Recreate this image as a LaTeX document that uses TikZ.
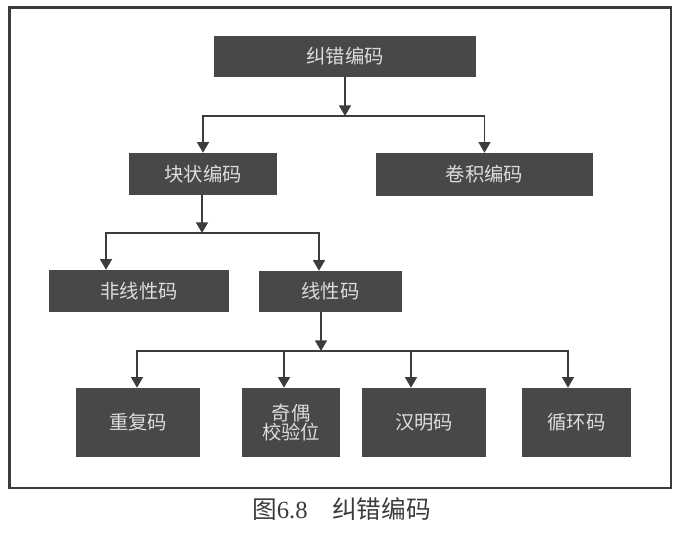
\documentclass[tikz,border=0pt]{standalone}
\usepackage{fontspec}
\setmainfont{Liberation Serif}
\newfontfamily\cjk{Noto Sans CJK SC}
\usetikzlibrary{arrows.meta}

\definecolor{boxgray}{HTML}{484848}
\definecolor{linegray}{HTML}{3C3C3C}
\definecolor{textgray}{HTML}{DCDCDC}

\begin{document}
\begin{tikzpicture}[
        x=0.75pt, y=-0.75pt,
        codebox/.style={fill=boxgray, text=textgray, inner sep=0pt, align=center, font=\cjk\fontsize{14.5}{13}\selectfont},
        boxsize/.style 2 args={minimum width=#1*0.75pt, minimum height=#2*0.75pt},
        link/.style={draw=linegray, line width=1.1pt},
        >={Triangle[width=9pt, length=8pt]}
    ]
        \path[use as bounding box] (0,0) rectangle (682,533);
        \draw[linegray, line width=1.7pt] (9.5,7.5) rectangle (671,488);

        % Boxes
        \node[codebox, boxsize={262}{41}] (ecc) at (345,56.5) {纠错编码};
        \node[codebox, boxsize={148}{42}] (block) at (203,174) {块状编码};
        \node[codebox, boxsize={217}{43}] (conv) at (484.5,174.5) {卷积编码};
        \node[codebox, boxsize={180}{42}] (nonlin) at (139,291) {非线性码};
        \node[codebox, boxsize={143}{41}] (lin) at (330.5,291.5) {线性码};
        \node[codebox, boxsize={124}{69}] (rep) at (138,422.5) {重复码};
        \node[codebox, boxsize={98}{69}] (parity) at (291,422.5) {奇偶\\校验位};
        \node[codebox, boxsize={124}{69}] (hamming) at (424,422.5) {汉明码};
        \node[codebox, boxsize={109}{69}] (cyclic) at (576.5,422.5) {循环码};

        % Junctions
        \coordinate (j1) at (345,116);
        \coordinate (j2) at (202,233);
        \coordinate (j3) at (321,351);

        % Arrows
        \draw[link, ->] (ecc.south) -- (j1);
        \draw[link, ->] (j1) -| (block.north);
        \draw[link, ->] (j1) -| (conv.north);
        \draw[link, ->] (block.south -| j2) -- (j2);
        \draw[link, ->] (j2) -| (106,0 |- nonlin.north);
        \draw[link, ->] (j2) -| (319,0 |- lin.north);
        \draw[link, ->] (lin.south -| j3) -- (j3);
        \draw[link, ->] (j3) -| (137,0 |- rep.north);
        \draw[link, ->] (j3) -| (284,0 |- parity.north);
        \draw[link, ->] (j3) -| (411,0 |- hamming.north);
        \draw[link, ->] (j3) -| (568,0 |- cyclic.north);

        % Caption
        \node[text=linegray, font=\fontsize{18.5}{20}\selectfont] (caption) at (341.5,509) {{\cjk 图}6.8\quad{\cjk 纠错编码}};
    \end{tikzpicture}
\end{document}
